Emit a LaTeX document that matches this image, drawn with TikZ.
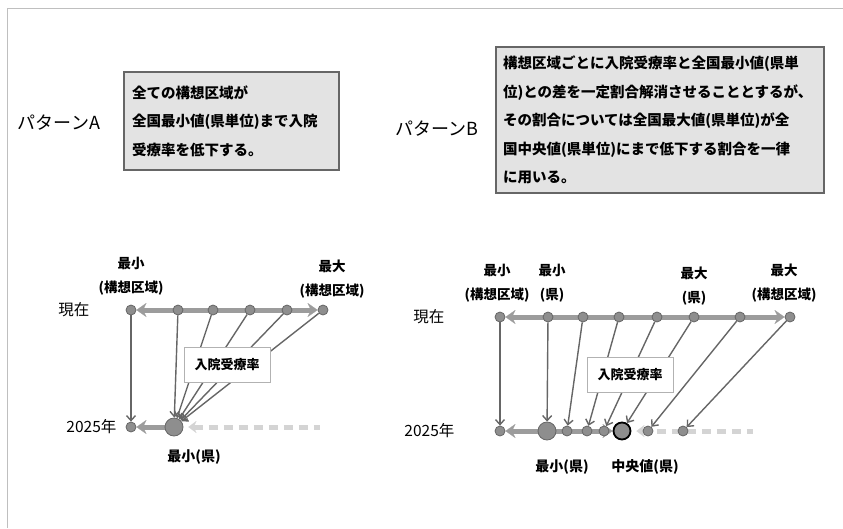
\documentclass[tikz,border=0pt]{standalone}
\usepackage{fontspec}
\setmainfont{Noto Sans CJK JP}
\usetikzlibrary{arrows.meta, positioning, backgrounds}
\definecolor{bargray}{HTML}{9C9C9C}
\definecolor{dotgray}{HTML}{8E8E8E}
\definecolor{linegray}{HTML}{666666}
\definecolor{boxgray}{HTML}{E3E3E3}
\tikzstyle{note} = [rectangle, draw=black!60, fill=boxgray, line width=1.2pt, align=left, inner xsep=8pt, inner ysep=0pt, font=\fontsize{14.5}{28.5}\selectfont\bfseries]
\tikzstyle{title} = [inner sep=0pt, font=\fontsize{18}{20}\selectfont]
\tikzstyle{axis} = [inner sep=0pt, font=\fontsize{15.5}{18}\selectfont]
\tikzstyle{lbl} = [align=center, inner sep=0pt, font=\fontsize{13.5}{24.5}\selectfont\bfseries]
\tikzstyle{sub} = [inner sep=0pt, font=\fontsize{14}{16}\selectfont\bfseries]
\tikzstyle{tag} = [rectangle, draw=black!30, fill=white, line width=0.8pt, minimum width=86pt, minimum height=35pt, font=\fontsize{13}{14}\selectfont\bfseries]
\tikzstyle{dot} = [circle, draw=black!60, fill=dotgray, minimum size=10pt, inner sep=0pt, line width=0.8pt]
\tikzstyle{bigdot} = [dot, minimum size=18pt]
\tikzstyle{middot} = [dot, draw=black, line width=1.8pt, minimum size=17pt]
\tikzstyle{bar} = [line width=5pt, bargray, >={Stealth[length=10pt,width=14pt,line width=0.1pt]}]
\tikzstyle{ghost} = [line width=5pt, black!17, dash pattern=on 9pt off 6pt, >={Stealth[length=8pt,width=12pt,line width=0.1pt]}]
\tikzstyle{drop} = [line width=1.4pt, linegray, -{Straight Barb[length=5pt,width=9pt]}]

\begin{document}
\begin{tikzpicture}[x=1pt, y=-1pt]
    \useasboundingbox (0,0) rectangle (843,528);
    \draw[black!25, line width=1pt] (7,528) -- (7,8) -- (843,8);

    % pattern A
    \node (titleA) [title] at (59,123) {パターンA};
    \node (noteA) [note, text width=199pt, minimum height=98pt] at (231.5,121) {全ての構想区域が\\全国最小値(県単位)まで入院\\受療率を低下する。};

    \node (a0) [dot] at (131,310) {};
    \node (a1) [dot] at (178,310) {};
    \node (a2) [dot] at (213,310) {};
    \node (a3) [dot] at (250,310) {};
    \node (a4) [dot] at (287,310) {};
    \node (a5) [dot] at (323,310) {};
    \node (c0) [dot] at (131,427) {};
    \node (c1) [bigdot] at (174,427) {};
    \coordinate (endA) at (320,427);

    \node (nowA) [axis, left=36pt of a0] {現在};
    \node (yearA) [axis, left=9pt of c0] {2025年};
    \node (minAreaA) [lbl, above=9pt of a0] {最小\\(構想区域)};
    \node (maxAreaA) [lbl, above=6pt of a5, xshift=9pt] {最大\\(構想区域)};
    \node (minPrefA) [sub, below=13pt of c1, xshift=20pt] {最小(県)};

    \begin{scope}[on background layer]
        \draw[bar, <->] (a0) -- (a5);
        \draw[bar, <-] (c0) -- (c1);
        \draw[ghost, <-, shorten <=5pt] (c1) -- (endA);
    \end{scope}

    \draw[drop] (a0) -- (c0);
    \draw[drop] (a1) -- (c1);
    \draw[drop] (a2) -- (c1);
    \draw[drop] (a3) -- (c1);
    \draw[drop] (a4) -- (c1);
    \draw[drop] (a5) -- (c1);
    \node (rateA) [tag] at (227,365) {入院受療率};

    % pattern B
    \node (titleB) [title] at (437,129) {パターンB};
    \node (noteB) [note, inner xsep=7pt, text width=314pt, minimum height=146pt] at (660,120) {構想区域ごとに入院受療率と全国最小値(県単\\位)との差を一定割合解消させることとするが、\\その割合については全国最大値(県単位)が全\\国中央値(県単位)にまで低下する割合を一律\\に用いる。};

    \node (b0) [dot] at (500,317) {};
    \node (b1) [dot] at (548,317) {};
    \node (b2) [dot] at (583,317) {};
    \node (b3) [dot] at (619,317) {};
    \node (b4) [dot] at (657,317) {};
    \node (b5) [dot] at (694,317) {};
    \node (b6) [dot] at (740,317) {};
    \node (b7) [dot] at (790,317) {};
    \node (d0) [dot] at (500,431) {};
    \node (d1) [bigdot] at (547,431) {};
    \node (d2) [dot] at (567,431) {};
    \node (d3) [dot] at (587,431) {};
    \node (d4) [dot] at (604,431) {};
    \node (d5) [middot] at (622,431) {};
    \node (d6) [dot] at (648,431) {};
    \node (d7) [dot] at (683,431) {};
    \coordinate (endB) at (753,431);

    \node (nowB) [axis, left=50pt of b0] {現在};
    \node (yearB) [axis, left=40pt of d0] {2025年};
    \node (minAreaB) [lbl, above=9pt of b0, xshift=-3pt] {最小\\(構想区域)};
    \node (minPrefTopB) [lbl, above=9pt of b1, xshift=4pt] {最小\\(県)};
    \node (maxPrefB) [lbl, above=6pt of b5] {最大\\(県)};
    \node (maxAreaB) [lbl, above=9pt of b7, xshift=-6pt] {最大\\(構想区域)};
    \node (minPrefB) [sub, below=19pt of d1, xshift=15pt] {最小(県)};
    \node (medPrefB) [sub, below=19pt of d5, xshift=23pt] {中央値(県)};

    \begin{scope}[on background layer]
        \draw[bar, <->] (b0) -- (b7);
        \draw[bar, <->] (d0) -- (d5);
        \draw[ghost, <-, shorten <=5pt] (d5) -- (endB);
    \end{scope}

    \draw[drop] (b0) -- (d0);
    \draw[drop] (b1) -- (d1);
    \draw[drop] (b2) -- (d2);
    \draw[drop] (b3) -- (d3);
    \draw[drop] (b4) -- (d4);
    \draw[drop] (b5) -- (d5);
    \draw[drop] (b6) -- (d6);
    \draw[drop] (b7) -- (d7);
    \node (rateB) [tag] at (630,375) {入院受療率};
\end{tikzpicture}
\end{document}
